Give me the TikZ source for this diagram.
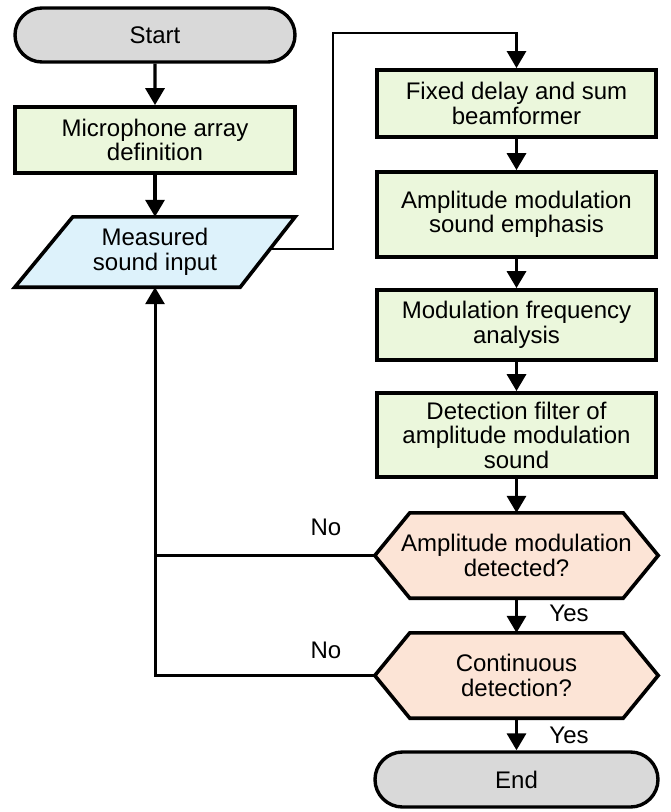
\documentclass[tikz,border=0pt]{standalone}
\usepackage{fontspec}
\setmainfont{Liberation Sans}
\usetikzlibrary{arrows.meta,shapes.misc,backgrounds}
\definecolor{procgreen}{HTML}{EBF7DC}
\definecolor{inblue}{HTML}{DDF2FB}
\definecolor{decorange}{HTML}{FCE4D6}
\definecolor{termgrey}{HTML}{D9D9D9}
\begin{document}
\begin{tikzpicture}[x=1pt,y=-1pt,
  every node/.style={font=\fontsize{24}{24.5}\selectfont, align=center, inner sep=0pt},
  proc/.style={draw, line width=3.8pt, fill=procgreen},
  term/.style={rounded rectangle, draw, line width=3.4pt, fill=termgrey},
  hexshape/.style={draw, line width=3.6pt, fill=decorange, line join=miter},
  conn/.style={line width=3.4pt, -{Triangle[width=19pt,length=17pt]}},
  plainline/.style={line width=3.2pt}]
\useasboundingbox (0,0) rectangle (670,812);
% left column
\node[term, minimum width=280, minimum height=54] (start) at (155,35) {Start};
\node[proc, minimum width=280, minimum height=66] (mic) at (155,140) {Microphone array\\definition};
\node[minimum width=280, minimum height=70] (meas) at (155,252) {Measured\\sound input};
% right column
\node[proc, minimum width=279, minimum height=67] (fixed) at (516.5,103.5) {Fixed delay and sum\\beamformer};
\node[proc, minimum width=279, minimum height=85] (emph) at (516.5,214.5) {Amplitude modulation\\sound emphasis};
\node[proc, minimum width=279, minimum height=70] (modf) at (516.5,325) {Modulation frequency\\analysis};
\node[proc, minimum width=279, minimum height=84] (detf) at (516.5,435) {Detection filter of\\amplitude modulation\\sound};
\node[minimum width=283, minimum height=85] (d1) at (516.5,555.5) {Amplitude modulation\\detected?};
\node[minimum width=283, minimum height=85] (d2) at (516.5,675.5) {Continuous\\detection?};
\node[term, minimum width=283, minimum height=55] (end) at (516.5,779.5) {End};
% background shapes
\begin{pgfonlayer}{background}
\draw[fill=inblue, line width=3.6pt, line join=miter] ([xshift=58pt]meas.north west) -- (meas.north east) -- ([xshift=-55pt]meas.south east) -- (meas.south west) -- cycle;
\draw[hexshape] (d1.west) -- ([xshift=35pt]d1.north west) -- ([xshift=-35pt]d1.north east) -- (d1.east) -- ([xshift=-35pt]d1.south east) -- ([xshift=35pt]d1.south west) -- cycle;
\draw[hexshape] (d2.west) -- ([xshift=35pt]d2.north west) -- ([xshift=-35pt]d2.north east) -- (d2.east) -- ([xshift=-35pt]d2.south east) -- ([xshift=35pt]d2.south west) -- cycle;
\end{pgfonlayer}
% labels
\node (yes1) at (569,613) {Yes};
\node (yes2) at (569,735) {Yes};
\node (no1) at (326,527) {No};
\node (no2) at (326,650) {No};
% connectors
\coordinate (mr) at (269,249);
\coordinate (k1) at (333,33);
\draw[conn] (start) -- (mic);
\draw[conn] (mic) -- (meas);
\draw[conn, line width=2.8pt] (mr) -| (k1) -| (fixed.north);
\draw[conn] (fixed) -- (emph);
\draw[conn] (emph) -- (modf);
\draw[conn] (modf) -- (detf);
\draw[conn] (detf) -- (d1);
\draw[conn] (d1) -- (d2);
\draw[conn] (d2) -- (end);
\draw[conn, line width=3pt] (d2.west) -| (meas.south);
\draw[plainline, line width=3pt] (d1.west) -- (d1.west -| meas.south);
\end{tikzpicture}
\end{document}
